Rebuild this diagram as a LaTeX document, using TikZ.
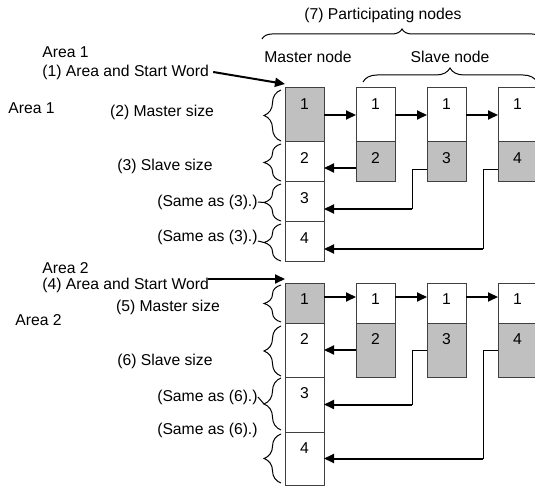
\documentclass[tikz,border=0pt]{standalone}
\usepackage{fontspec}
\setmainfont{Liberation Sans}
\usetikzlibrary{arrows.meta,decorations.pathreplacing}
\definecolor{cellgrey}{HTML}{C0C0C0}
\tikzset{
  cell/.style={draw=black!75, line width=0.5pt, minimum width=19.5pt, inner sep=0pt, outer sep=0pt},
  celltext/.style={label={[anchor=center,inner sep=0pt,yshift=-8.25pt]north:#1}},
  lbl/.style={inner sep=0pt},
  fwd/.style={line width=1pt, -{Triangle[length=5pt,width=4.5pt]}},
  wire/.style={line width=0.5pt},
  lbrace/.style={decorate, decoration={brace, amplitude=#1}, line width=0.5pt},
  lbrace/.default=8.5pt
}
\begin{document}
\begin{tikzpicture}[x=0.5pt,y=-0.5pt,font=\fontsize{7.85pt}{9pt}\selectfont]
\useasboundingbox (0,0) rectangle (535,486);
\clip (0,0) rectangle (535,486);
% headings
\node[lbl] (pn) at (383,15) {(7) Participating nodes};
\node[lbl] (mn) at (308,57) {Master node};
\node[lbl] (sn) at (450,57) {Slave node};
\draw[lbrace=5pt] (262,39) -- (542,39);
\draw[lbrace=7pt] (363,82) -- (537,82);
% area 1
\node[lbl,anchor=west] (a1t) at (42,52) {Area 1};
\node[lbl,anchor=west] (sw1) at (42,72) {(1) Area and Start Word};
\node[lbl,anchor=west] (a1) at (8,108) {Area 1};
\node[lbl] (ms1) at (162,112) {(2) Master size};
\node[lbl] (ss1) at (165,166) {(3) Slave size};
\node[lbl,anchor=east] (sa1) at (258,202) {(Same as (3).)};
\node[lbl,anchor=east] (sa2) at (258,237) {(Same as (3).)};
\node[cell,fill=cellgrey,minimum height=27pt,celltext=1] (mA1) at (304.5,115) {};
\node[cell,minimum height=20pt,celltext=2] (mA2) at (304.5,162) {};
\node[cell,minimum height=20pt,celltext=3] (mA3) at (304.5,202) {};
\node[cell,minimum height=20pt,celltext=4] (mA4) at (304.5,242) {};
\node[cell,minimum height=27pt,celltext=1] (sA1) at (375.5,115) {};
\node[cell,fill=cellgrey,minimum height=20pt,celltext=2] (gA1) at (375.5,162) {};
\node[cell,minimum height=27pt,celltext=1] (sA2) at (446.5,115) {};
\node[cell,fill=cellgrey,minimum height=20pt,celltext=3] (gA2) at (446.5,162) {};
\node[cell,minimum height=27pt,celltext=1] (sA3) at (517.5,115) {};
\node[cell,fill=cellgrey,minimum height=20pt,celltext=4] (gA3) at (517.5,162) {};
\draw[lbrace] (281,141) -- (281,90);
\draw[lbrace] (281,181) -- (281,144);
\draw[lbrace] (281,221) -- (281,184);
\draw[lbrace] (281,261) -- (281,224);
\coordinate (tA3) at (264,202.5);
\coordinate (tA4) at (264,242.5);
\draw[wire] (sa1.east) -- (tA3);
\draw[wire] ([yshift=-2pt]sa2.east) -- (tA4);
\draw[fwd] ([xshift=2pt]sw1.east) -- ([yshift=2pt]mA1.north west);
\draw[fwd] (mA1.east) -- (sA1.west);
\draw[fwd] (sA1.east) -- (sA2.west);
\draw[fwd] (sA2.east) -- (sA3.west);
\draw[fwd] ([yshift=-3pt]gA1.west) -- ([yshift=-3pt]gA1.west -| mA2.east);
\coordinate (cA2) at (412,209);
\coordinate (cA3) at (483,249);
\draw[wire] ([yshift=-4pt]gA2.west) -| (cA2);
\draw[fwd] (cA2) -- (cA2 -| mA3.east);
\draw[wire] ([yshift=-4pt]gA3.west) -| (cA3);
\draw[fwd] (cA3) -- (cA3 -| mA4.east);
% area 2
\node[lbl,anchor=west] (a2t) at (42,268) {Area 2};
\node[lbl,anchor=west] (sw2) at (42,285) {(4) Area and Start Word};
\node[lbl] (ms2) at (168,307) {(5) Master size};
\node[lbl,anchor=west] (a2) at (15,320) {Area 2};
\node[lbl] (ss2) at (165,361) {(6) Slave size};
\node[lbl,anchor=east] (sb1) at (258,397) {(Same as (6).)};
\node[lbl,anchor=east] (sb2) at (258,430) {(Same as (6).)};
\node[cell,fill=cellgrey,minimum height=20pt,celltext=1] (mB1) at (304.5,303) {};
\node[cell,minimum height=27pt,celltext=2] (mB2) at (304.5,350) {};
\node[cell,minimum height=27.5pt,celltext=3] (mB3) at (304.5,404.5) {};
\node[cell,minimum height=26.5pt,celltext=4] (mB4) at (304.5,458.5) {};
\node[cell,minimum height=20pt,celltext=1] (sB1) at (375.5,303) {};
\node[cell,fill=cellgrey,minimum height=27pt,celltext=2] (gB1) at (375.5,350) {};
\node[cell,minimum height=20pt,celltext=1] (sB2) at (446.5,303) {};
\node[cell,fill=cellgrey,minimum height=27pt,celltext=3] (gB2) at (446.5,350) {};
\node[cell,minimum height=20pt,celltext=1] (sB3) at (517.5,303) {};
\node[cell,fill=cellgrey,minimum height=27pt,celltext=4] (gB3) at (517.5,350) {};
\draw[lbrace] (281,322) -- (281,285);
\draw[lbrace] (281,376) -- (281,326);
\draw[lbrace] (281,430) -- (281,378);
\draw[lbrace] (281,483) -- (281,434);
\coordinate (tB3) at (264,404);
\draw[wire] (sb1.east) -- (tB3);
\coordinate (st2) at (208,279);
\draw[fwd] (st2) -- (st2 -| mB1.west);
\draw[fwd] ([yshift=3pt]mB1.east) -- ([yshift=3pt]sB1.west);
\draw[fwd] ([yshift=3pt]sB1.east) -- ([yshift=3pt]sB2.west);
\draw[fwd] ([yshift=3pt]sB2.east) -- ([yshift=3pt]sB3.west);
\draw[fwd] (gB1.west) -- (gB1.west -| mB2.east);
\coordinate (cB2) at (412,404.5);
\coordinate (cB3) at (483,458.5);
\draw[wire] (gB2.west) -| (cB2);
\draw[fwd] (cB2) -- (cB2 -| mB3.east);
\draw[wire] (gB3.west) -| (cB3);
\draw[fwd] (cB3) -- (cB3 -| mB4.east);
\end{tikzpicture}
\end{document}
